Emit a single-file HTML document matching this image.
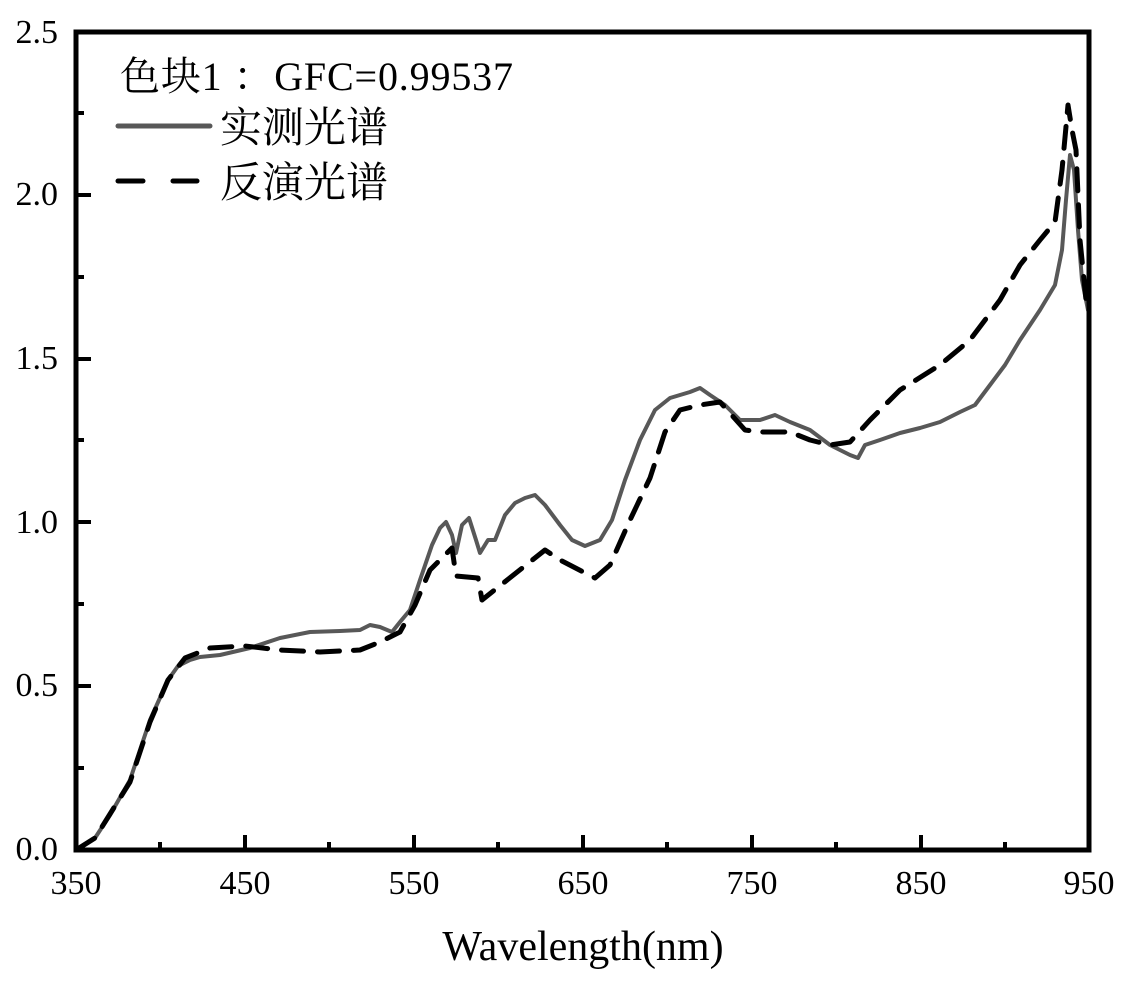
<!DOCTYPE html>
<html><head><meta charset="utf-8"><style>
body{margin:0;background:#fff;}
svg text{font-family:"Liberation Serif","Noto Serif CJK SC",serif;fill:#000;}
</style></head><body>
<svg width="1126" height="983" viewBox="0 0 1126 983" xmlns="http://www.w3.org/2000/svg">
<g fill="none" stroke-linejoin="round" stroke-linecap="round">
<polyline stroke="#585858" stroke-width="4" points="76,850 95,838 110,815 130,780 150,720 168,680 178,666 190,660 200,657 220,655 250,648 280,638 310,632 340,631 360,630 370,625 380,627 392,632 400,622 410,610 420,580 432,545 440,528 446,522 452,535 456,553 462,525 469,518 476,540 480,553 488,540 495,540 505,515 515,503 525,498 535,495 545,505 560,525 572,540 585,546 600,540 612,520 625,480 640,440 655,410 670,398 690,392 700,388 710,395 725,405 740,420 760,420 775,415 790,422 810,430 830,445 850,455 858,458 865,445 880,440 900,433 920,428 940,422 960,412 975,405 990,385 1005,365 1020,340 1040,310 1055,285 1062,250 1066,200 1070,155 1074,170 1078,230 1082,280 1088,310"/>
<polyline stroke="#000" stroke-width="5" stroke-dasharray="22 14" points="76,850 95,838 130,782 150,722 168,680 185,658 210,648 245,646 280,650 320,652 360,650 380,642 400,632 415,605 430,570 445,555 452,548 456,576 478,578 482,600 545,550 560,560 595,578 610,565 630,520 650,478 665,432 680,410 700,405 720,402 745,430 760,432 790,432 810,440 830,445 850,442 870,420 900,390 940,365 970,340 1000,300 1020,265 1040,240 1055,222 1062,170 1068,105 1072,130 1076,150 1080,240 1086,300"/>
</g>
<rect x="76" y="32" width="1013" height="818" fill="none" stroke="#000" stroke-width="5"/>
<g stroke="#000" stroke-width="4">
<line x1="76" y1="686" x2="91" y2="686"/><line x1="76" y1="522" x2="91" y2="522"/><line x1="76" y1="359" x2="91" y2="359"/><line x1="76" y1="195" x2="91" y2="195"/>
<line x1="76" y1="768" x2="84" y2="768"/><line x1="76" y1="604" x2="84" y2="604"/><line x1="76" y1="440" x2="84" y2="440"/><line x1="76" y1="277" x2="84" y2="277"/><line x1="76" y1="113" x2="84" y2="113"/>
<line x1="245" y1="850" x2="245" y2="835"/><line x1="414" y1="850" x2="414" y2="835"/><line x1="583" y1="850" x2="583" y2="835"/><line x1="752" y1="850" x2="752" y2="835"/><line x1="921" y1="850" x2="921" y2="835"/>
<line x1="160" y1="850" x2="160" y2="842"/><line x1="329" y1="850" x2="329" y2="842"/><line x1="498" y1="850" x2="498" y2="842"/><line x1="667" y1="850" x2="667" y2="842"/><line x1="836" y1="850" x2="836" y2="842"/><line x1="1005" y1="850" x2="1005" y2="842"/>
</g>
<g font-size="34" text-anchor="end">
<text x="58" y="860">0.0</text><text x="58" y="696">0.5</text><text x="58" y="533">1.0</text><text x="58" y="369">1.5</text><text x="58" y="205">2.0</text><text x="58" y="43">2.5</text>
</g>
<g font-size="34" text-anchor="middle">
<text x="76" y="894">350</text><text x="245" y="894">450</text><text x="414" y="894">550</text><text x="583" y="894">650</text><text x="752" y="894">750</text><text x="921" y="894">850</text><text x="1089" y="894">950</text>
</g>
<text x="583" y="960" font-size="42" text-anchor="middle">Wavelength(nm)</text>
<text x="120" y="90" font-size="40" textLength="393" lengthAdjust="spacing">色块1 ：GFC=0.99537</text>
<line x1="118" y1="126" x2="210" y2="126" stroke="#585858" stroke-width="5" stroke-linecap="round"/>
<line x1="118" y1="181" x2="143" y2="181" stroke="#000" stroke-width="5" stroke-linecap="round"/>
<line x1="173" y1="181" x2="197" y2="181" stroke="#000" stroke-width="5" stroke-linecap="round"/>
<text x="220" y="142" font-size="42">实测光谱</text>
<text x="220" y="197" font-size="42">反演光谱</text>
</svg>
</body></html>
